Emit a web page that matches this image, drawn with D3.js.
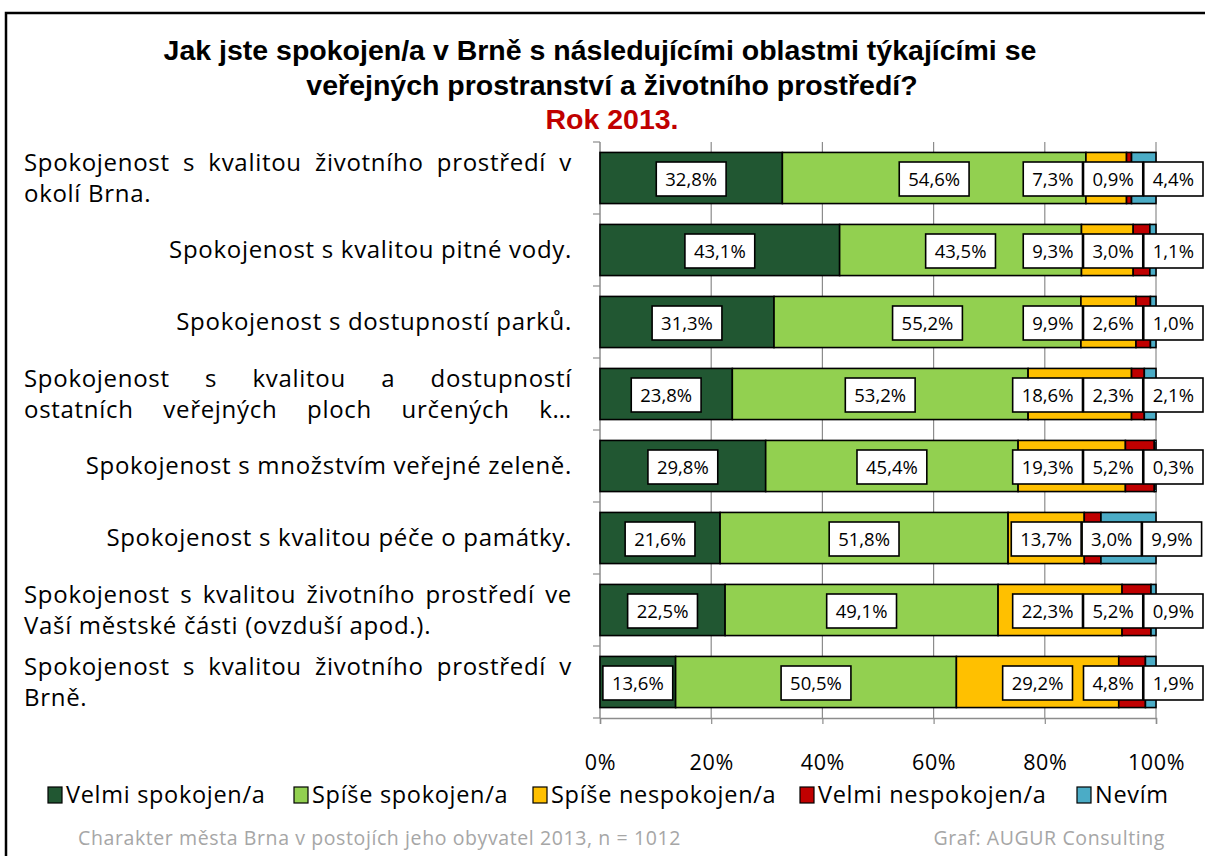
<!DOCTYPE html>
<html>
<head>
<meta charset="utf-8">
<script src="https://cdn.jsdelivr.net/npm/d3@7"></script>
<style>
  html, body { margin: 0; padding: 0; background: #fff; }
  svg { display: block; }
</style>
</head>
<body>
<svg id="chart" width="1205" height="856"></svg>
<script>
// Satisfaction with public spaces and environment in Brno, 2013 (shares in %)
const categories = [
  "Spokojenost s kvalitou životního prostředí v okolí Brna.",
  "Spokojenost s kvalitou pitné vody.",
  "Spokojenost s dostupností parků.",
  "Spokojenost s kvalitou a dostupností ostatních veřejných ploch určených k…",
  "Spokojenost s množstvím veřejné zeleně.",
  "Spokojenost s kvalitou péče o památky.",
  "Spokojenost s kvalitou životního prostředí ve Vaší městské části (ovzduší apod.).",
  "Spokojenost s kvalitou životního prostředí v Brně."
];
// label lines as they wrap in the category column
const categoryLines = [
  ["Spokojenost s kvalitou životního prostředí v", "okolí Brna."],
  ["Spokojenost s kvalitou pitné vody."],
  ["Spokojenost s dostupností parků."],
  ["Spokojenost s kvalitou a dostupností", "ostatních veřejných ploch určených k…"],
  ["Spokojenost s množstvím veřejné zeleně."],
  ["Spokojenost s kvalitou péče o památky."],
  ["Spokojenost s kvalitou životního prostředí ve", "Vaší městské části (ovzduší apod.)."],
  ["Spokojenost s kvalitou životního prostředí v", "Brně."]
];
const seriesNames = ["Velmi spokojen/a", "Spíše spokojen/a", "Spíše nespokojen/a", "Velmi nespokojen/a", "Nevím"];
const velmiSpokojen   = [32.8, 43.1, 31.3, 23.8, 29.8, 21.6, 22.5, 13.6];
const spiseSpokojen   = [54.6, 43.5, 55.2, 53.2, 45.4, 51.8, 49.1, 50.5];
const spiseNespokojen = [7.3, 9.3, 9.9, 18.6, 19.3, 13.7, 22.3, 29.2];
const velmiNespokojen = [0.9, 3.0, 2.6, 2.3, 5.2, 3.0, 5.2, 4.8];
const nevim           = [4.4, 1.1, 1.0, 2.1, 0.3, 9.9, 0.9, 1.9];
const tickValues = [0, 20, 40, 60, 80, 100];
const colors = ["#215732", "#92D050", "#FFC000", "#C00000", "#4BACC6"];

const seriesValues = [velmiSpokojen, spiseSpokojen, spiseNespokojen, velmiNespokojen, nevim];
const table = categories.map((c, i) => {
  const row = { category: c };
  seriesNames.forEach((s, k) => row[s] = seriesValues[k][i]);
  return row;
});
const stacked = d3.stack().keys(seriesNames)(table);

const svg = d3.select("#chart");
const fmt = v => d3.format(".1f")(v).replace(".", ",") + "%";
const fontBody = "'Open Sans', Lato, sans-serif";

// outer frame
svg.append("path")
  .attr("d", "M6,860 L6,13 L1210,13")
  .attr("fill", "none").attr("stroke", "#000").attr("stroke-width", 2.5);

// title
const title = svg.append("text").attr("text-anchor", "middle")
  .attr("font-family", "'Liberation Sans', Arial, sans-serif").attr("font-weight", "bold")
  .attr("font-size", 28.5);
title.append("tspan").attr("x", 600).attr("y", 60).attr("fill", "#000")
  .text("Jak jste spokojen/a v Brně s následujícími oblastmi týkajícími se");
title.append("tspan").attr("x", 612).attr("y", 95).attr("fill", "#000")
  .text("veřejných prostranství a životního prostředí?");
title.append("tspan").attr("x", 612).attr("y", 129).attr("fill", "#C00000")
  .text("Rok 2013.");

const x = d3.scaleLinear().domain([0, 100]).range([600, 1156]);
const y = d3.scaleBand().domain(categories).range([142, 718])
  .paddingInner(0.29).paddingOuter(0.145);

// vertical gridlines
svg.append("g").selectAll("line").data(tickValues.filter(v => v > 0)).join("line")
  .attr("x1", d => x(d)).attr("x2", d => x(d))
  .attr("y1", 142).attr("y2", 718)
  .attr("stroke", "#8c8c8c").attr("stroke-width", 1.2);

// bottom axis
const xAxis = svg.append("g").attr("transform", "translate(0,718)")
  .call(d3.axisBottom(x).tickValues(tickValues).tickSize(6).tickFormat(d => d + "%"));
xAxis.select(".domain").attr("stroke", "#8c8c8c").attr("stroke-width", 1.5);
xAxis.selectAll(".tick line").attr("stroke", "#8c8c8c").attr("stroke-width", 1.2);
xAxis.selectAll(".tick text").attr("font-family", fontBody).attr("font-size", 21.5)
  .attr("letter-spacing", 0.6)
  .attr("fill", "#000").attr("dy", "0").attr("y", 52);

// left axis with ticks at category boundaries
const boundaries = d3.range(categories.length + 1).map(i => 142 + i * y.step());
svg.append("line").attr("x1", 600).attr("x2", 600).attr("y1", 142).attr("y2", 718)
  .attr("stroke", "#8c8c8c").attr("stroke-width", 1.5);
svg.append("g").selectAll("line").data(boundaries).join("line")
  .attr("x1", 593).attr("x2", 600).attr("y1", d => d).attr("y2", d => d)
  .attr("stroke", "#8c8c8c").attr("stroke-width", 1.2);

// bars
svg.append("g").selectAll("g").data(stacked).join("g")
  .attr("fill", (d, i) => colors[i])
  .selectAll("rect").data(d => d).join("rect")
  .attr("x", d => x(d[0])).attr("width", d => x(d[1]) - x(d[0]))
  .attr("y", d => y(d.data.category)).attr("height", y.bandwidth())
  .attr("stroke", "#000").attr("stroke-width", 1.6);

// category labels (justified block, 24..572)
const labelLeft = 24, labelRight = 572, lineH = 31;
const catG = svg.append("g").attr("font-family", fontBody).attr("font-size", 24)
  .attr("letter-spacing", 0.7).attr("fill", "#000");
categoryLines.forEach((lines, i) => {
  const cy = y(categories[i]) + y.bandwidth() / 2;
  const y0 = cy - (lines.length - 1) * lineH / 2 + 8;
  lines.forEach((line, li) => {
    const by = y0 + li * lineH;
    const isLast = li === lines.length - 1;
    const fullJustify = lines.length > 1 && (!isLast || categories[i].endsWith("…"));
    if (lines.length === 1) {
      catG.append("text").attr("x", labelRight).attr("y", by).attr("text-anchor", "end").text(line);
    } else if (!fullJustify) {
      catG.append("text").attr("x", labelLeft).attr("y", by).text(line);
    } else {
      const words = line.split(" ");
      const ws = words.map(w => {
        const t = catG.append("text").attr("y", by).text(w);
        return { t, w: t.node().getComputedTextLength() };
      });
      const total = d3.sum(ws, d => d.w);
      const gap = (labelRight - labelLeft - total) / (words.length - 1);
      let cx = labelLeft;
      ws.forEach(d => { d.t.attr("x", cx); cx += d.w + gap; });
    }
  });
});

// data labels: white boxes, centred on segments, spread apart when they collide
const boxH = 34, padX = 9, rightBound = 1203, boxGap = 1;
const labG = svg.append("g").attr("font-family", fontBody).attr("font-size", 18.5);
const rows = categories.map((c, i) => stacked.map((s, k) => {
  const d = s[i];
  const t = labG.append("text").attr("visibility", "hidden").text(fmt(d[1] - d[0]));
  const w = t.node().getComputedTextLength() + 2 * padX;
  t.remove();
  const cx = (x(d[0]) + x(d[1])) / 2;
  return { k, i, text: fmt(d[1] - d[0]), w, left: cx - w / 2 };
}));
rows.forEach(boxes => {
  for (let j = 1; j < boxes.length; j++) {
    const prev = boxes[j - 1];
    boxes[j].left = Math.max(boxes[j].left, prev.left + prev.w + boxGap);
  }
  const last = boxes[boxes.length - 1];
  if (last.left + last.w > rightBound) {
    last.left = rightBound - last.w;
    for (let j = boxes.length - 2; j >= 0; j--) {
      const next = boxes[j + 1];
      boxes[j].left = Math.min(boxes[j].left, next.left - boxGap - boxes[j].w);
    }
  }
});
// draw series by series so later series sit on top
seriesNames.forEach((s, k) => {
  rows.forEach(boxes => {
    const b = boxes[k];
    const cy = y(categories[b.i]) + y.bandwidth() / 2;
    labG.append("rect").attr("x", b.left).attr("y", cy - boxH / 2 + 1)
      .attr("width", b.w).attr("height", boxH)
      .attr("fill", "#fff").attr("stroke", "#000").attr("stroke-width", 1.6);
    labG.append("text").attr("x", b.left + b.w / 2).attr("y", cy + 8)
      .attr("text-anchor", "middle").attr("fill", "#000").text(b.text);
  });
});

// legend
const legendX = [48, 294, 533, 800, 1077];
const leg = svg.append("g").attr("font-family", fontBody).attr("font-size", 23.5)
  .attr("letter-spacing", 0.7);
seriesNames.forEach((s, k) => {
  const g = leg.append("g").attr("transform", `translate(${legendX[k]},787)`);
  g.append("rect").attr("width", 14).attr("height", 16).attr("fill", colors[k])
    .attr("stroke", "#000").attr("stroke-width", 1.2);
  g.append("text").attr("x", 18).attr("y", 16).attr("fill", "#000").text(s);
});

// footer
const foot = svg.append("g").attr("font-family", fontBody).attr("font-size", 19.5)
  .attr("letter-spacing", 0.6).attr("fill", "#a6a6a6");
foot.append("text").attr("x", 78).attr("y", 845).text("Charakter města Brna v postojích jeho obyvatel 2013, n = 1012");
foot.append("text").attr("x", 1165).attr("y", 845).attr("text-anchor", "end").text("Graf: AUGUR Consulting");
</script>
</body>
</html>
